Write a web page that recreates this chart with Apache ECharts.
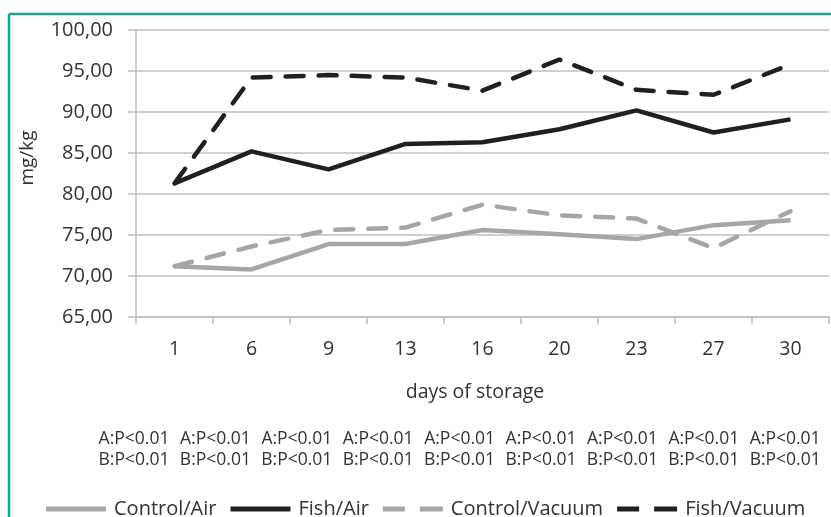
<!DOCTYPE html>
<html><head><meta charset="utf-8">
<script src="https://cdn.jsdelivr.net/npm/echarts@6/dist/echarts.min.js"></script>
<style>html,body{margin:0;padding:0;background:#fff}#c{width:831px;height:517px}</style>
</head><body><div id="c"></div>
<script>
const days = ['1','6','9','13','16','20','23','27','30'];
const controlAir = [71.2, 70.8, 73.9, 73.9, 75.6, 75.1, 74.5, 76.2, 76.8];
const fishAir = [81.3, 85.2, 83.0, 86.1, 86.3, 87.9, 90.2, 87.5, 89.1];
const controlVacuum = [71.2, 73.6, 75.6, 75.9, 78.7, 77.4, 77.0, 73.4, 77.9];
const fishVacuum = [81.3, 94.2, 94.5, 94.2, 92.6, 96.4, 92.7, 92.1, 95.8];
const annotA = ['A:P<0.01','A:P<0.01','A:P<0.01','A:P<0.01','A:P<0.01','A:P<0.01','A:P<0.01','A:P<0.01','A:P<0.01'];
const annotB = ['B:P<0.01','B:P<0.01','B:P<0.01','B:P<0.01','B:P<0.01','B:P<0.01','B:P<0.01','B:P<0.01','B:P<0.01'];

const GRAY = '#A6A6A6', BLACK = '#231F20', TXT = '#333333', FONT = 'Open Sans';
const chart = echarts.init(document.getElementById('c'));

const graphics = [
  {type:'line', shape:{x1:9,y1:14,x2:831,y2:14}, style:{stroke:'#14A38F', lineWidth:2.5}, z:100},
  {type:'line', shape:{x1:9,y1:14,x2:9,y2:517}, style:{stroke:'#14A38F', lineWidth:2.5}, z:100},
  {type:'text', x:28, y:158, rotation:Math.PI/2, style:{text:'mg/kg', fill:TXT, font:'19px "Open Sans"', textAlign:'center', textVerticalAlign:'middle'}},
  {type:'text', x:475, y:392, style:{text:'days of storage', fill:TXT, font:'19.5px "Open Sans"', textAlign:'center', textVerticalAlign:'middle'}}
];
annotA.forEach((t,i)=>{
  graphics.push({type:'text', x:134+i*81.4, y:439, style:{text:t, fill:TXT, font:'17.5px "Open Sans"', textAlign:'center', textVerticalAlign:'middle'}});
});
annotB.forEach((t,i)=>{
  graphics.push({type:'text', x:134+i*81.4, y:460, style:{text:t, fill:TXT, font:'17.5px "Open Sans"', textAlign:'center', textVerticalAlign:'middle'}});
});

function mk(name, data, color, dashed){
  return {name, type:'line', data, symbol:'none', smooth:false,
    lineStyle:{color, width:4.5, type: dashed ? [18,15] : 'solid', cap: dashed ? 'round':'butt'},
    itemStyle:{color}};
}
const SOLID_ICON = 'path://M0,0H60V5H0Z';
const DASH_ICON = 'path://M0,0H22V5H0Z M37,0H60V5H37Z';

chart.setOption({
  animation:false,
  backgroundColor:'#ffffff',
  textStyle:{fontFamily:FONT},
  grid:{left:136, right:2, top:30, bottom:200, containLabel:false},
  xAxis:{type:'category', data:days, boundaryGap:true,
    axisLine:{lineStyle:{color:'#BFBFBF', width:1.5}},
    axisTick:{show:true, length:7, lineStyle:{color:'#BFBFBF', width:1.5}},
    axisLabel:{fontSize:19.5, color:TXT, margin:22, fontFamily:FONT}},
  yAxis:{type:'value', min:65, max:100, interval:5,
    axisLine:{show:true, lineStyle:{color:'#BFBFBF', width:1.5}},
    axisTick:{show:true, length:8, lineStyle:{color:'#BFBFBF', width:1.5}},
    splitLine:{lineStyle:{color:'#BFBFBF', width:1.5}},
    axisLabel:{fontSize:20, color:TXT, margin:23, fontFamily:FONT,
      formatter:v=>v.toFixed(2).replace('.',',')}},
  legend:{left:41, top:494, itemWidth:60, itemHeight:5, itemGap:14,
    textStyle:{fontSize:20, color:TXT, fontFamily:FONT, padding:[0,0,0,3]},
    data:[
      {name:'Control/Air', icon:SOLID_ICON},
      {name:'Fish/Air', icon:SOLID_ICON},
      {name:'Control/Vacuum', icon:DASH_ICON},
      {name:'Fish/Vacuum', icon:DASH_ICON}
    ]},
  graphic:graphics,
  series:[
    mk('Control/Air', controlAir, GRAY, false),
    mk('Fish/Air', fishAir, BLACK, false),
    mk('Control/Vacuum', controlVacuum, GRAY, true),
    mk('Fish/Vacuum', fishVacuum, BLACK, true)
  ]
});
</script></body></html>
